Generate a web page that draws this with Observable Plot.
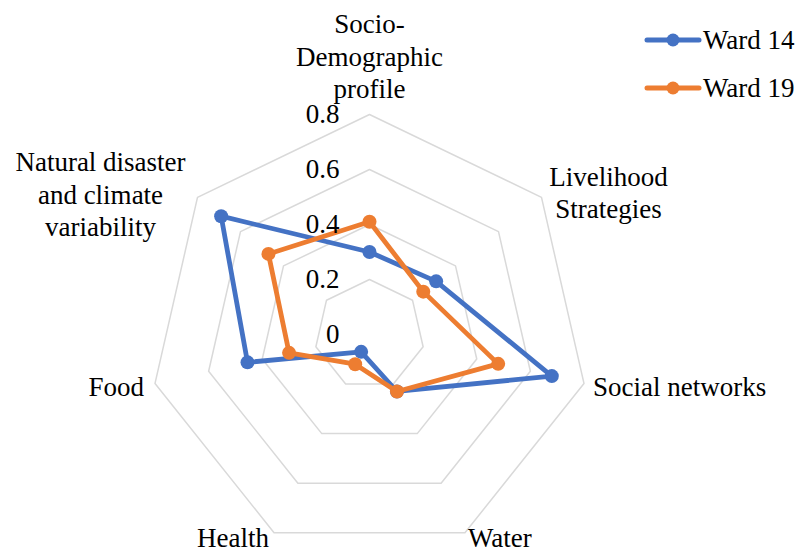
<!DOCTYPE html>
<html>
<head>
<meta charset="utf-8">
<script src="https://cdn.jsdelivr.net/npm/d3@7"></script>
<script src="https://cdn.jsdelivr.net/npm/@observablehq/plot@0.6"></script>
<style>
  body { margin: 0; background: #fff; }
  #chart { width: 799px; height: 551px; }
  #chart svg { display: block; }
</style>
</head>
<body>
<div id="chart"></div>
<script>
// ---------- data ----------
const axes = [
  "Socio-\nDemographic\nprofile",
  "Livelihood\nStrategies",
  "Social networks",
  "Water",
  "Health",
  "Food",
  "Natural disaster\nand climate\nvariability"
];
const seriesNames = ["Ward 14", "Ward 19"];
const ward14 = [0.30, 0.31, 0.68, 0.23, 0.07, 0.455, 0.69];
const ward19 = [0.41, 0.25, 0.48, 0.23, 0.12, 0.30, 0.47];
const ticks = [0, 0.2, 0.4, 0.6, 0.8];
const tickLabels = ["0", "0.2", "0.4", "0.6", "0.8"];

// ---------- layout / style ----------
const W = 799, H = 551;
const cx = 369, cy = 334, unit = 275;   // px per 1.0
const colors = ["#4472C4", "#ED7D31"];
const font = "Liberation Serif";
const fs = 27;
const labelLayout = [
  {dx: 0,   dy: -59, anchor: "middle"},
  {dx: 67,  dy: -6,  anchor: "middle"},
  {dx: 9,   dy: 2,   anchor: "start"},
  {dx: 3,   dy: 4,   anchor: "start"},
  {dx: -5,  dy: 4,   anchor: "end"},
  {dx: -11, dy: 2,   anchor: "end"},
  {dx: -97, dy: -4,  anchor: "middle"}
];
const legendLayout = {x1: 647, x2: 699, dotX: 673, textX: 703, y0: 40, step: 48};

const n = axes.length;
const ang = i => 2 * Math.PI * i / n;
const px = (i, v) => v * Math.sin(ang(i));
const py = (i, v) => v * Math.cos(ang(i));

// rings
const rings = [];
ticks.filter(t => t > 0).forEach(t => {
  for (let i = 0; i < n; i++) rings.push({level: t, i, v: t});
});

// series points
const seriesData = [ward14, ward19];
const pts = [];
seriesData.forEach((vals, s) => vals.forEach((v, i) => pts.push({s, name: seriesNames[s], i, v})));

const outer = ticks[ticks.length - 1];

const marks = [
  Plot.line(rings, {x: d => px(d.i, d.v), y: d => py(d.i, d.v), z: "level",
    curve: "linear-closed", stroke: "#d9d9d9", strokeWidth: 1.5})
];
seriesNames.forEach((name, s) => {
  const data = pts.filter(d => d.s === s);
  marks.push(Plot.line(data, {x: d => px(d.i, d.v), y: d => py(d.i, d.v),
    curve: "linear-closed", stroke: colors[s], strokeWidth: 4.8, strokeLinejoin: "round"}));
  marks.push(Plot.dot(data, {x: d => px(d.i, d.v), y: d => py(d.i, d.v),
    r: 7, fill: colors[s], stroke: "none"}));
});
marks.push(Plot.text(ticks, {x: 0, y: d => d, text: (d, k) => tickLabels[k],
  dx: -30, textAnchor: "end", fontSize: fs, fontFamily: font, fill: "#000"}));
axes.forEach((label, i) => {
  const L = labelLayout[i];
  marks.push(Plot.text([i], {x: d => px(d, outer), y: d => py(d, outer), text: () => label,
    dx: L.dx, dy: L.dy, textAnchor: L.anchor, lineAnchor: "middle", lineHeight: 1.2,
    fontSize: fs, fontFamily: font, fill: "#000"}));
});

const chart = Plot.plot({
  width: W, height: H, margin: 0,
  x: {domain: [-cx / unit, (W - cx) / unit], axis: null},
  y: {domain: [-(H - cy) / unit, cy / unit], axis: null},
  marks
});

// put the serif face on each text element as a plain attribute
d3.select(chart).selectAll("text").attr("font-family", font);

// legend (drawn into the same SVG)
const LG = legendLayout;
const lg = d3.select(chart).append("g").attr("class", "legend");
seriesNames.forEach((name, s) => {
  const y = LG.y0 + s * LG.step;
  lg.append("line").attr("x1", LG.x1).attr("x2", LG.x2).attr("y1", y).attr("y2", y)
    .attr("stroke", colors[s]).attr("stroke-width", 5).attr("stroke-linecap", "round");
  lg.append("circle").attr("cx", LG.dotX).attr("cy", y).attr("r", 6.5).attr("fill", colors[s]);
  lg.append("text").attr("x", LG.textX).attr("y", y).attr("dy", "0.34em")
    .attr("font-family", font).attr("font-size", fs).attr("fill", "#000")
    .attr("text-anchor", "start").text(name);
});

document.getElementById("chart").appendChild(chart);
</script>
</body>
</html>
